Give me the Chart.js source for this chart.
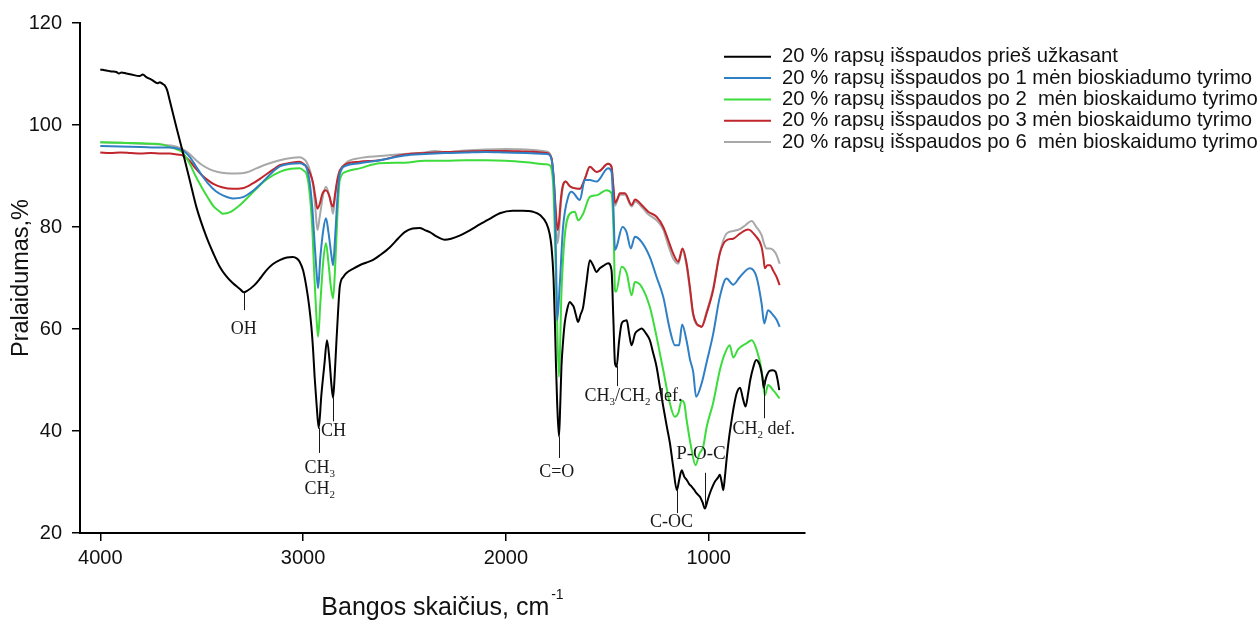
<!DOCTYPE html>
<html>
<head>
<meta charset="utf-8">
<script src="https://cdn.jsdelivr.net/npm/chart.js@4.4.1/dist/chart.umd.min.js"></script>
<style>
  html, body { margin: 0; padding: 0; background: #ffffff; }
  canvas { display: block; }
</style>
</head>
<body>
<canvas id="ftir" width="1260" height="620"></canvas>
<script>
// FTIR spectra: wavenumber (cm-1) and transmittance (%) for each sample
const blackWn = [4000,3970,3946,3921,3908,3896,3872,3847,3806,3790,3773,3748,3716,3707,3694,3683,3670,3658,3625,3592,3559,3526,3477,3440,3411,3380,3347,3310,3293,3275,3240,3210,3181,3150,3115,3080,3051,3030,3017,3000,2984,2970,2959,2950,2943,2933,2923,2910,2895,2882,2870,2860,2852,2844,2836,2828,2819,2800,2786,2750,2721,2690,2657,2620,2573,2530,2499,2460,2425,2400,2375,2340,2302,2270,2228,2180,2129,2080,2030,1966,1920,1867,1830,1800,1785,1775,1765,1759,1753,1747,1738,1732,1726,1718,1710,1698,1685,1675,1665,1655,1644,1632,1619,1603,1586,1570,1553,1537,1515,1496,1479,1470,1462,1454,1442,1429,1415,1404,1392,1380,1363,1345,1331,1310,1290,1275,1257,1240,1224,1207,1191,1175,1157,1145,1133,1120,1108,1096,1084,1072,1060,1043,1030,1019,1006,994,980,969,955,945,936,928,920,912,900,887,875,862,845,832,818,805,795,780,766,756,745,735,728,720,712,700,685,670,660,652];
const blackT = [110.9,110.7,110.5,110.4,110.1,110.3,110.1,109.9,109.6,109.9,109.4,108.9,108.2,108.4,108.1,107.8,106.8,104.9,99.6,94.5,89.2,83.9,78.1,74.6,72.2,70.4,69.0,67.8,67.2,67.5,68.6,70.0,71.5,72.7,73.5,74.0,74.1,73.8,73.2,71.5,68.3,64.5,60.4,55.5,50.6,45.0,40.6,47.0,53.0,57.8,54.0,49.0,46.5,51.0,57.2,63.0,68.3,70.3,71.0,71.9,72.5,73.0,73.5,74.5,76.0,77.8,79.0,79.7,79.8,79.4,79.0,78.1,77.5,77.7,78.3,79.3,80.5,81.6,82.7,83.2,83.2,83.0,82.3,80.7,78.8,76.1,70.0,62.4,53.0,45.4,38.9,45.0,52.6,57.5,61.1,63.8,65.3,64.9,64.3,62.8,61.4,62.8,64.3,69.0,73.5,72.5,71.2,71.9,72.5,72.9,71.5,62.0,53.3,52.6,57.5,61.1,61.6,61.7,59.0,56.8,59.1,59.8,60.1,59.2,57.8,55.5,52.6,48.5,44.8,41.0,37.6,33.0,28.4,30.5,32.3,31.0,30.4,29.6,29.1,28.5,27.8,27.1,26.0,24.8,26.3,27.8,29.2,30.1,30.8,31.4,30.0,28.4,31.0,34.3,38.5,42.1,45.0,47.4,48.5,46.5,44.8,47.5,50.0,52.5,53.9,53.6,52.5,50.5,48.5,50.0,51.0,51.8,51.9,51.6,50.0,48.0];

const blueWn = [4000,3900,3800,3700,3658,3620,3592,3560,3530,3500,3470,3430,3390,3346,3300,3250,3200,3150,3115,3060,3017,2995,2984,2970,2955,2945,2935,2926,2915,2900,2887,2875,2862,2852,2842,2830,2819,2790,2721,2622,2500,2400,2300,2200,2100,2000,1900,1800,1784,1770,1759,1752,1747,1734,1718,1693,1676,1635,1611,1586,1553,1496,1479,1470,1462,1454,1425,1405,1384,1364,1331,1290,1257,1224,1191,1166,1146,1131,1108,1092,1076,1062,1035,1010,978,945,912,879,846,797,764,739,726,707,682,665,650];
const blueT = [95.9,95.8,95.7,95.6,95.6,95.4,95.0,93.8,92.0,90.2,88.6,87.0,86.1,85.6,85.8,87.0,88.8,90.8,91.9,92.4,92.5,92.2,91.8,89.5,84.0,78.0,72.0,68.0,74.0,79.5,81.7,79.0,75.0,72.5,78.0,86.0,90.5,92.0,92.5,93.1,94.0,94.3,94.5,94.6,94.7,94.6,94.5,94.3,94.1,92.0,85.3,72.0,61.7,68.9,80.0,85.9,86.9,85.3,89.2,89.2,88.9,91.5,90.8,84.0,75.5,76.1,80.0,79.0,75.8,78.1,77.1,74.1,70.2,66.3,59.8,56.8,56.8,60.9,57.5,54.0,51.5,46.7,49.3,53.5,59.0,66.3,69.9,68.7,70.2,71.9,70.2,65.0,61.1,63.7,62.7,61.8,60.4];

const greenWn = [4000,3900,3800,3700,3658,3620,3592,3560,3530,3500,3470,3440,3410,3395,3360,3320,3280,3230,3180,3115,3060,3017,2995,2984,2970,2955,2945,2935,2926,2915,2900,2887,2875,2862,2852,2842,2830,2819,2790,2721,2622,2500,2400,2300,2200,2100,2000,1900,1800,1784,1767,1750,1738,1726,1710,1685,1660,1644,1619,1586,1553,1504,1479,1468,1462,1457,1429,1404,1380,1364,1331,1290,1257,1224,1191,1167,1150,1133,1120,1110,1084,1065,1045,1027,1010,978,945,920,896,879,855,813,788,764,739,723,707,682,650];
const greenT = [96.6,96.5,96.4,96.2,95.7,95.2,94.5,92.5,90.0,87.8,85.8,84.0,83.0,82.6,82.9,84.0,85.5,87.5,89.3,90.8,91.4,91.5,91.0,90.5,87.5,80.0,71.0,63.0,58.5,65.0,73.5,76.8,73.0,68.0,66.0,72.0,83.0,89.2,90.8,91.5,92.5,92.6,93.0,93.0,93.1,93.1,93.0,92.7,92.3,92.1,88.5,65.7,50.6,67.0,78.1,82.6,83.0,81.3,82.6,85.9,86.2,87.2,86.6,78.0,67.6,67.3,72.2,70.9,66.6,69.2,68.3,64.3,58.5,51.9,45.4,42.8,43.5,46.0,45.4,42.5,36.3,33.3,35.6,36.9,40.8,45.5,51.9,55.2,56.8,54.4,56.0,57.2,57.8,56.0,51.9,47.0,49.0,48.0,46.4];

const redWn = [4000,3950,3900,3850,3800,3750,3700,3658,3620,3592,3560,3530,3500,3470,3440,3400,3346,3300,3250,3200,3150,3115,3060,3017,2995,2984,2965,2950,2940,2929,2918,2905,2887,2870,2860,2852,2842,2830,2819,2790,2721,2622,2500,2400,2300,2200,2100,2000,1900,1800,1775,1765,1755,1745,1738,1730,1720,1705,1685,1635,1610,1586,1553,1537,1496,1479,1470,1462,1450,1438,1413,1380,1363,1323,1298,1257,1224,1200,1175,1150,1129,1109,1092,1077,1060,1045,1035,1010,978,945,912,879,846,805,772,739,730,723,710,698,680,665,650];
const redT = [94.6,94.5,94.6,94.5,94.4,94.5,94.4,94.4,94.2,94.0,93.0,91.5,90.2,89.2,88.4,87.8,87.5,87.6,88.5,89.8,91.2,92.1,92.6,92.8,92.3,91.8,90.5,88.5,86.0,83.6,84.5,86.5,87.2,86.0,84.5,84.0,86.5,89.5,91.1,92.3,92.8,93.1,94.2,94.5,94.7,94.8,94.9,94.9,94.8,94.5,93.5,90.0,84.0,79.4,81.0,85.0,88.0,88.9,88.0,87.5,89.5,91.8,90.8,91.0,92.4,91.8,88.0,84.7,85.5,86.6,86.6,84.3,85.4,84.0,83.0,82.0,80.0,77.5,74.8,73.2,75.8,72.9,68.0,63.1,61.1,60.6,60.4,63.1,67.6,74.8,77.4,77.7,78.7,79.5,78.4,76.1,74.0,71.9,72.5,72.5,71.3,70.2,68.6];

const greyWn = [4000,3900,3800,3700,3658,3620,3592,3560,3530,3500,3460,3420,3329,3280,3230,3180,3115,3050,3017,2995,2984,2965,2950,2940,2929,2918,2900,2887,2870,2860,2852,2842,2830,2819,2790,2721,2622,2500,2400,2350,2300,2200,2100,2000,1900,1800,1775,1765,1755,1745,1738,1730,1720,1705,1685,1635,1610,1586,1553,1537,1496,1479,1470,1462,1450,1438,1413,1380,1363,1323,1298,1257,1224,1200,1175,1150,1129,1109,1092,1077,1060,1045,1035,1010,978,945,912,879,846,820,788,765,739,725,714,698,682,665,650];
const greyT = [96.6,96.5,96.3,96.2,96.0,95.7,95.2,94.3,93.2,92.2,91.3,90.8,90.5,90.7,91.5,92.3,93.1,93.6,93.7,93.3,92.8,91.0,88.0,84.0,79.4,82.0,86.5,87.9,86.0,84.0,82.6,86.0,89.0,90.5,92.5,93.5,93.9,94.3,94.6,94.9,94.7,95.0,95.2,95.3,95.2,94.8,93.5,89.0,82.0,76.8,79.0,84.0,87.5,88.9,88.0,87.5,89.5,91.8,90.8,91.0,92.4,91.8,87.5,84.2,85.3,86.3,86.3,84.0,85.0,83.6,82.5,81.3,79.5,76.5,73.8,72.8,75.5,72.4,67.5,62.8,60.9,60.6,60.6,63.4,68.0,75.0,78.7,79.2,79.6,80.3,81.2,80.0,78.4,76.5,75.8,75.8,75.5,74.5,72.8];

const seriesLabels = [
  '20 % rapsų išspaudos prieš užkasant',
  '20 % rapsų išspaudos po 1 mėn bioskiadumo tyrimo',
  '20 % rapsų išspaudos po 2  mėn bioskaidumo tyrimo',
  '20 % rapsų išspaudos po 3 mėn bioskaidumo tyrimo',
  '20 % rapsų išspaudos po 6  mėn bioskaidumo tyrimo'
];
const seriesColors = ['#000000', '#2f7fc4', '#3cdc3c', '#c0262c', '#a8a8a8'];

const xTickValues = [4000, 3000, 2000, 1000];
const yTickValues = [20, 40, 60, 80, 100, 120];

// Band assignments: leader line (wn, from -> to) and label centre (at, val)
const peakLabels = [
  { wn: 3293, from: 67.2, to: 63.7, at: 3293, val: 60.1, parts: [['OH']] },
  { wn: 2923, from: 40.6, to: 35.7, at: 2918, val: 33.0, parts: [['CH'], ['3', 1]] },
  { at: 2918, val: 28.8, parts: [['CH'], ['2', 1]] },
  { wn: 2852, from: 46.5, to: 41.9, at: 2850, val: 40.2, parts: [['CH']] },
  { wn: 1738, from: 38.9, to: 34.7, at: 1749, val: 32.2, parts: [['C=O']] },
  { wn: 1454, from: 52.8, to: 48.8, at: 1371, val: 47.0, parts: [['CH'], ['3', 1], ['/CH'], ['2', 1], [' def.']] },
  { wn: 1019, from: 31.8, to: 25.1, at: 1038, val: 35.8, big: true, parts: [['P-O-C']] },
  { wn: 1155, from: 28.4, to: 23.9, at: 1183, val: 22.4, parts: [['C-OC']] },
  { wn: 728, from: 50.0, to: 42.5, at: 728, val: 40.6, parts: [['CH'], ['2', 1], [' def.']] }
];

function toPoints(wn, t) { return wn.map((w, i) => ({ x: w, y: t[i] })); }

const sans = '"Liberation Sans", Arial, sans-serif';
const serif = '"Liberation Serif", "Times New Roman", serif';

function drawParts(ctx, parts, cx, cy, size) {
  const bigFont = size + 'px ' + serif;
  const subFont = Math.round(size * 0.62) + 'px ' + serif;
  let w = 0;
  parts.forEach(([t, sub]) => { ctx.font = sub ? subFont : bigFont; w += ctx.measureText(t).width; });
  let xx = cx - w / 2;
  const base = cy + size * 0.33;
  ctx.textAlign = 'left';
  ctx.textBaseline = 'alphabetic';
  parts.forEach(([t, sub]) => {
    ctx.font = sub ? subFont : bigFont;
    ctx.fillText(t, xx, sub ? base + size * 0.22 : base);
    xx += ctx.measureText(t).width;
  });
}

const decorPlugin = {
  id: 'decor',
  afterDraw(chart) {
    const { ctx, chartArea, scales } = chart;
    const x = scales.x, y = scales.y;
    ctx.save();

    // band labels with leader lines
    ctx.strokeStyle = '#1a1a1a';
    ctx.fillStyle = '#1a1a1a';
    ctx.lineWidth = 1;
    peakLabels.forEach(p => {
      if (p.wn !== undefined) {
        const px = Math.round(x.getPixelForValue(p.wn)) + 0.5;
        ctx.beginPath();
        ctx.moveTo(px, y.getPixelForValue(p.from));
        ctx.lineTo(px, y.getPixelForValue(p.to));
        ctx.stroke();
      }
      drawParts(ctx, p.parts, x.getPixelForValue(p.at), y.getPixelForValue(p.val), p.big ? 19 : 18);
    });

    // legend
    ctx.font = '20.3px ' + sans;
    ctx.textAlign = 'left';
    ctx.textBaseline = 'middle';
    chart.data.datasets.forEach((ds, i) => {
      const ly = 56.8 + i * 21.3;
      ctx.strokeStyle = ds.borderColor;
      ctx.lineWidth = 2;
      ctx.beginPath();
      ctx.moveTo(724, ly);
      ctx.lineTo(771, ly);
      ctx.stroke();
      ctx.fillStyle = '#111';
      ctx.fillText(ds.label, 782, ly);
    });

    // axis titles
    ctx.fillStyle = '#111';
    ctx.save();
    ctx.translate(22, (chartArea.top + chartArea.bottom) / 2);
    ctx.rotate(-Math.PI / 2);
    ctx.textAlign = 'center';
    ctx.textBaseline = 'middle';
    ctx.font = '23.5px ' + sans;
    ctx.fillText('Pralaidumas,%', 0, 0);
    ctx.restore();

    const main = 'Bangos skaičius, cm';
    const sup = '-1';
    ctx.font = '25px ' + sans;
    const wMain = ctx.measureText(main).width;
    ctx.font = '14px ' + sans;
    const wSup = ctx.measureText(sup).width;
    const cx = (chartArea.left + chartArea.right) / 2;
    const startX = cx - (wMain + wSup + 2) / 2;
    ctx.textAlign = 'left';
    ctx.textBaseline = 'alphabetic';
    ctx.font = '25px ' + sans;
    ctx.fillText(main, startX, 615);
    ctx.font = '14px ' + sans;
    ctx.fillText(sup, startX + wMain + 2, 599);

    ctx.restore();
  }
};

const series = [
  [blackWn, blackT],
  [blueWn, blueT],
  [greenWn, greenT],
  [redWn, redT],
  [greyWn, greyT]
];

new Chart(document.getElementById('ftir'), {
  type: 'line',
  data: {
    datasets: series.map(([wn, t], i) => ({
      label: seriesLabels[i],
      data: toPoints(wn, t),
      borderColor: seriesColors[i],
      backgroundColor: seriesColors[i],
      borderWidth: 2,
      pointRadius: 0,
      cubicInterpolationMode: 'monotone',
      fill: false
    }))
  },
  options: {
    responsive: false,
    animation: false,
    devicePixelRatio: 1,
    layout: { padding: { left: 0, top: 23, right: 455, bottom: 0 } },
    plugins: { legend: { display: false }, tooltip: { enabled: false } },
    scales: {
      x: {
        type: 'linear',
        reverse: true,
        min: 525,
        max: 4100,
        afterBuildTicks: s => { s.ticks = xTickValues.map(v => ({ value: v })); },
        afterFit: s => { s.height = 87; },
        ticks: {
          callback: v => String(v),
          font: { family: sans, size: 20 },
          color: '#111',
          padding: 5,
          maxRotation: 0,
          autoSkip: false
        },
        grid: { drawOnChartArea: false, drawTicks: true, tickLength: 8, color: '#000', lineWidth: 1.5 },
        border: { display: true, color: '#000', width: 2 }
      },
      y: {
        min: 20,
        max: 120,
        afterBuildTicks: s => { s.ticks = yTickValues.map(v => ({ value: v })); },
        afterFit: s => { s.width = 80; },
        ticks: {
          callback: v => String(v),
          font: { family: sans, size: 20 },
          color: '#111',
          padding: 10
        },
        grid: { drawOnChartArea: false, drawTicks: true, tickLength: 8, color: '#000', lineWidth: 1.5 },
        border: { display: true, color: '#000', width: 2 }
      }
    }
  },
  plugins: [decorPlugin]
});
</script>
</body>
</html>
